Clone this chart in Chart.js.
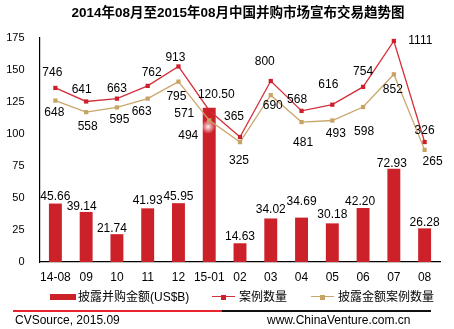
<!DOCTYPE html>
<html>
<head>
<meta charset="utf-8">
<script src="https://cdn.jsdelivr.net/npm/chart.js@4"></script>
<style>
  body { margin: 0; background: #fff; }
  #wrap { position: relative; width: 454px; height: 329px; overflow: hidden;
          font-family: "Liberation Sans", "Noto Sans CJK SC", sans-serif; color: #000; }
  #chart { position: absolute; left: 0; top: 0; }
  .title { position: absolute; left: 0; width: 476px; top: 4px; text-align: center;
           font-weight: bold; font-size: 13.5px; line-height: 18px;
           font-family: "Liberation Sans", "Noto Sans CJK SC", sans-serif; }
  .txt { position: absolute; font-size: 12px; line-height: 14px; white-space: nowrap; }
  .sw { position: absolute; }
</style>
</head>
<body>
<div id="wrap">
  <canvas id="chart" width="454" height="329"></canvas>
  <div class="title">2014年08月至2015年08月中国并购市场宣布交易趋势图</div>

  <!-- legend -->
  <div class="sw" style="left:50px;top:294px;width:26px;height:6px;background:#cc2129"></div>
  <div class="txt" style="left:78px;top:290px">披露并购金额(US$B)</div>
  <div class="sw" style="left:212px;top:296px;width:23px;height:1.4px;background:#d4303c"></div>
  <div class="sw" style="left:221px;top:294.5px;width:5px;height:5px;background:#cc1f2b"></div>
  <div class="txt" style="left:239px;top:290px">案例数量</div>
  <div class="sw" style="left:311px;top:296px;width:23px;height:1.4px;background:#c9a66c"></div>
  <div class="sw" style="left:320px;top:294.5px;width:5px;height:5px;background:#c8a464"></div>
  <div class="txt" style="left:338px;top:290px">披露金额案例数量</div>

  <!-- footer -->
  <div class="sw" style="left:13px;top:310px;width:209px;height:1.5px;background:#e8252c"></div>
  <div class="sw" style="left:222px;top:310px;width:209px;height:1.5px;background:#111"></div>
  <div class="txt" style="left:15px;top:313px">CVSource, 2015.09</div>
  <div class="txt" style="left:267px;top:313px">www.ChinaVenture.com.cn</div>
</div>

<script>
// monthly M&A announcements, Aug 2014 - Aug 2015
const months = ['14-08', '09', '10', '11', '12', '15-01', '02', '03', '04', '05', '06', '07', '08'];
const amountUsdB = [45.66, 39.14, 21.74, 41.93, 45.95, 120.50, 14.63, 34.02, 34.69, 30.18, 42.20, 72.93, 26.28];
const dealCount = [746, 641, 663, 762, 913, 571, 365, 800, 568, 616, 754, 1111, 326];
const disclosedCount = [648, 558, 595, 663, 795, 494, 325, 690, 481, 493, 598, 852, 265];
const amountTicks = [0, 25, 50, 75, 100, 125, 150, 175];

// label nudges (dx, dy) from each mark, in px
const amountLabelShift = [[0, -7], [-4.5, -5], [-5, -5], [0, -7.5], [0, -6.5], [7, -13], [0, -7],
  [0, -8.5], [0, -16], [0, -9], [-3, -6], [-2, -5], [0, -6]];
const dealLabelShift = [[-3, -15], [-4.5, -12], [0, -9.5], [4, -13], [-3, -9], [-25, 3], [-6, -20],
  [-6, -19], [-4.5, -11.5], [-4, -19.5], [0, -15], [26.5, 0], [0, -11.5]];
const disclosedLabelShift = [[-1, 12], [1.5, 15], [2.5, 12], [-6, 13], [-2, 15], [-21, 15.5], [-1, 19],
  [2, 10.5], [1.5, 20.5], [3.5, 12.7], [1, 24.7], [-1, 15], [8, 12]];

const valueLabels = {
  id: 'valueLabels',
  afterDatasetsDraw(chart) {
    const ctx = chart.ctx;
    ctx.save();
    ctx.font = '12px "Liberation Sans", Arial, sans-serif';
    ctx.fillStyle = '#000';
    ctx.textAlign = 'center';
    ctx.textBaseline = 'middle';
    chart.data.datasets.forEach((ds, di) => {
      const meta = chart.getDatasetMeta(di);
      meta.data.forEach((el, i) => {
        const [dx, dy] = ds.labelShift[i];
        const v = ds.data[i];
        const text = ds.type === 'bar' ? v.toFixed(2) : String(v);
        ctx.fillText(text, el.x + dx, el.y + dy);
      });
    });
    ctx.restore();
  }
};

// soft white highlight on the tall January bar
const barGlow = {
  id: 'barGlow',
  afterDatasetDraw(chart, args) {
    if (args.index !== 2) return;
    const p = chart.getDatasetMeta(2).data[5];
    const ctx = chart.ctx;
    const cx = p.x - 1, cy = p.y + 19;
    const g = ctx.createRadialGradient(cx, cy, 0, cx, cy, 7);
    g.addColorStop(0, 'rgba(255,255,255,0.95)');
    g.addColorStop(0.4, 'rgba(255,235,235,0.6)');
    g.addColorStop(1, 'rgba(255,255,255,0)');
    ctx.save();
    ctx.fillStyle = g;
    ctx.fillRect(cx - 8, cy - 8, 16, 16);
    ctx.restore();
  }
};

new Chart(document.getElementById('chart'), {
  data: {
    labels: months,
    datasets: [
      {
        type: 'line',
        label: '案例数量',
        data: dealCount,
        yAxisID: 'y1',
        borderColor: '#d4303c',
        backgroundColor: '#cc1f2b',
        borderWidth: 1.3,
        pointStyle: 'rect',
        pointRadius: 3,
        pointBorderWidth: 0,
        tension: 0,
        order: 0,
        labelShift: dealLabelShift,
      },
      {
        type: 'line',
        label: '披露金额案例数量',
        data: disclosedCount,
        yAxisID: 'y1',
        borderColor: '#c9a66c',
        backgroundColor: '#c8a464',
        borderWidth: 1.3,
        pointStyle: 'rect',
        pointRadius: 3,
        pointBorderWidth: 0,
        tension: 0,
        order: 1,
        labelShift: disclosedLabelShift,
      },
      {
        type: 'bar',
        label: '披露并购金额(US$B)',
        data: amountUsdB,
        yAxisID: 'y',
        backgroundColor: '#cc2129',
        barPercentage: 0.42,
        categoryPercentage: 1,
        order: 2,
        labelShift: amountLabelShift,
      },
    ],
  },
  options: {
    responsive: false,
    animation: false,
    layout: { padding: { left: 0, right: 14, top: 38, bottom: 42 } },
    plugins: {
      legend: { display: false },
      tooltip: { enabled: false },
      title: { display: false },
    },
    scales: {
      x: {
        offset: true,
        grid: { display: false, drawTicks: false },
        border: { display: true, color: '#000', width: 1.2 },
        ticks: {
          color: '#000',
          padding: 8,
          font: { family: '"Liberation Sans", Arial, sans-serif', size: 12 },
          maxRotation: 0,
          autoSkip: false,
        },
        afterFit(scale) { scale.height = 25; },
      },
      y: {
        position: 'left',
        min: 0,
        max: 175,
        afterBuildTicks(scale) { scale.ticks = amountTicks.map(v => ({ value: v })); },
        grid: { display: false, drawTicks: false },
        border: { display: true, color: '#000', width: 1.2 },
        ticks: {
          color: '#000',
          padding: 15.5,
          font: { family: '"Liberation Sans", Arial, sans-serif', size: 11 },
        },
        afterFit(scale) { scale.width = 40; },
      },
      y1: {
        display: false,
        min: -606,
        max: 1134,
      },
    },
  },
  plugins: [barGlow, valueLabels],
});
</script>
</body>
</html>
